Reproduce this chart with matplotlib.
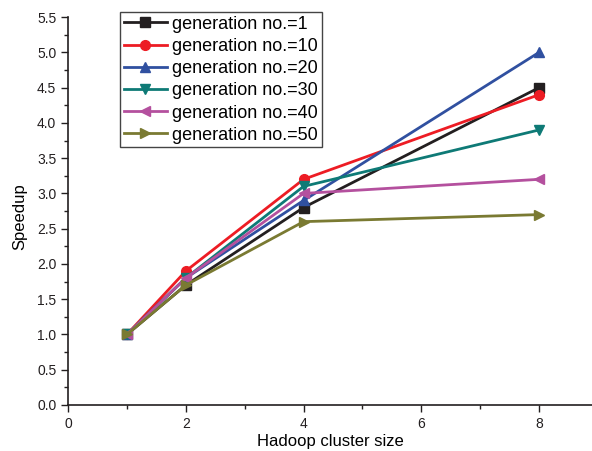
import matplotlib.pyplot as plt
from matplotlib.ticker import MultipleLocator

plt.rcParams['font.family'] = ['Liberation Sans', 'DejaVu Sans']

cluster_size = [1, 2, 4, 8]
labels = ['generation no.=1', 'generation no.=10', 'generation no.=20',
          'generation no.=30', 'generation no.=40', 'generation no.=50']
gen_1 = [1.0, 1.7, 2.8, 4.5]
gen_10 = [1.0, 1.9, 3.2, 4.4]
gen_20 = [1.0, 1.8, 2.9, 5.0]
gen_30 = [1.0, 1.8, 3.1, 3.9]
gen_40 = [1.0, 1.8, 3.0, 3.2]
gen_50 = [1.0, 1.7, 2.6, 2.7]

series = [gen_1, gen_10, gen_20, gen_30, gen_40, gen_50]
colors = ['#231f20', '#ed1c24', '#3050a0', '#0e7a76', '#b4509e', '#7a7a32']
markers = ['s', 'o', '^', 'v', '<', '>']

fig = plt.figure(figsize=(5.92, 4.51), dpi=100)
ax = fig.add_axes([0.115, 0.102, 0.885, 0.86])

for vals, lab, c, m in zip(series, labels, colors, markers):
    ax.plot(cluster_size, vals, color=c, marker=m, markersize=7, lw=2, label=lab)

ax.set_xlim(0, 8.9)
ax.set_ylim(0, 5.5)
ax.xaxis.set_major_locator(MultipleLocator(2))
ax.xaxis.set_minor_locator(MultipleLocator(1))
ax.yaxis.set_major_locator(MultipleLocator(0.5))
ax.yaxis.set_minor_locator(MultipleLocator(0.25))
ax.yaxis.set_major_formatter(plt.FormatStrFormatter('%.1f'))
ax.tick_params(which='both', direction='out', labelsize=10, colors='#231f20')
ax.tick_params(which='major', length=5, width=1)
ax.tick_params(which='minor', length=3, width=1)
for s in ['top', 'right']:
    ax.spines[s].set_visible(False)
for s in ['left', 'bottom']:
    ax.spines[s].set_color('#231f20')
    ax.spines[s].set_linewidth(1.2)

ax.set_xlabel('Hadoop cluster size', fontsize=12, labelpad=2)
ax.set_ylabel('Speedup', fontsize=12)
ax.yaxis.set_label_coords(-0.078, 0.485)

leg = ax.legend(loc='upper left', bbox_to_anchor=(120 / 592, 1 - 12 / 451),
                bbox_transform=fig.transFigure, fontsize=13,
                fancybox=False, framealpha=1, edgecolor='#444444',
                handlelength=2.4, borderpad=0.2, labelspacing=0.29,
                handletextpad=0.3, borderaxespad=0)
leg.get_frame().set_linewidth(1)

plt.savefig('out.png', dpi=100)
